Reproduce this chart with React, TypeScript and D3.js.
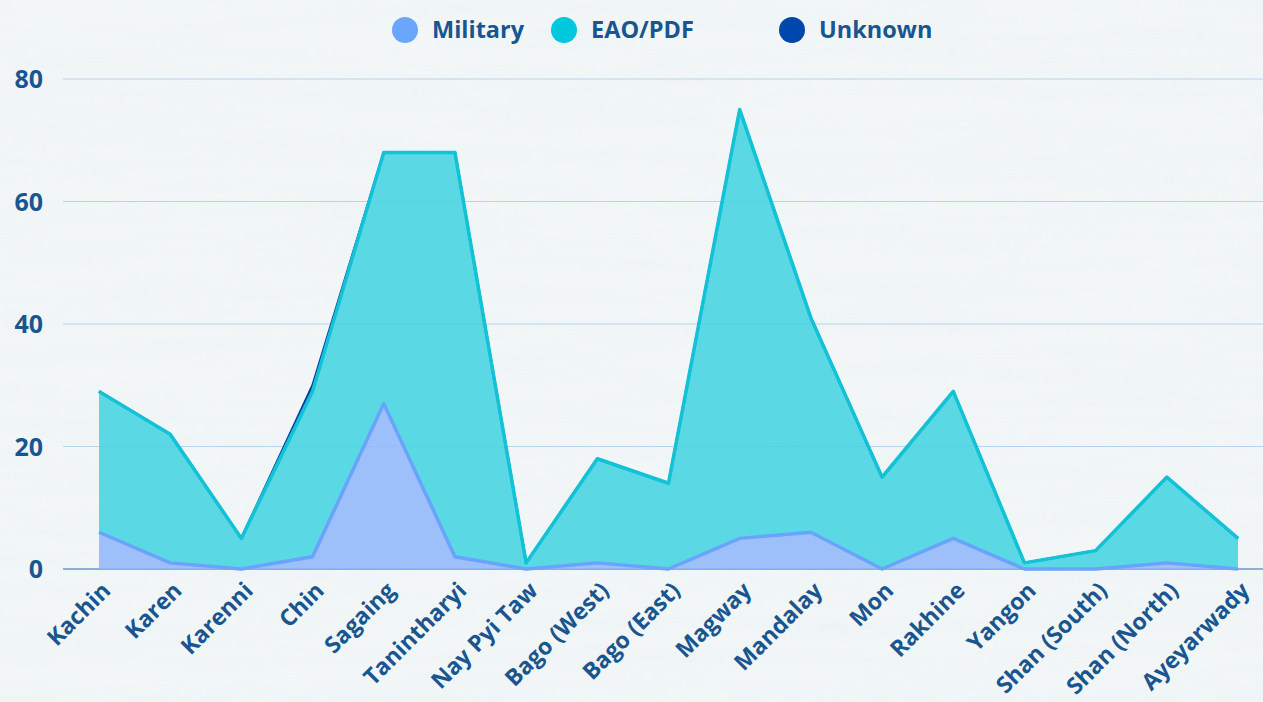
import React from 'react';
import * as d3 from 'd3';

const regions = [
    'Kachin', 'Karen', 'Karenni', 'Chin', 'Sagaing', 'Tanintharyi', 'Nay Pyi Taw',
    'Bago (West)', 'Bago (East)', 'Magway', 'Mandalay', 'Mon', 'Rakhine', 'Yangon',
    'Shan (South)', 'Shan (North)', 'Ayeyarwady',
];
const military = [6, 1, 0, 2, 27, 2, 0, 1, 0, 5, 6, 0, 5, 0, 0, 1, 0];
const eaoPdf = [23, 21, 5, 27, 41, 66, 1, 17, 14, 70, 35, 15, 24, 1, 3, 14, 5];
const unknown = [0, 0, 0, 1, 0, 0, 0, 0, 0, 0, 0, 0, 0, 0, 0, 0, 0];
const yTicks = [0, 20, 40, 60, 80];

const seriesInfo = [
    { key: 'military', label: 'Military', fill: '#8fb6fa', fillOpacity: 0.85, stroke: '#69a3fb', dot: '#6aa6fd' },
    { key: 'eao', label: 'EAO/PDF', fill: '#3fd3e0', fillOpacity: 0.85, stroke: '#12c3d8', dot: '#00c8dc' },
    { key: 'unknown', label: 'Unknown', fill: '#0a46a8', fillOpacity: 0.8, stroke: '#0a3f9f', dot: '#0047ab' },
];

const width = 1263;
const height = 702;
const margin = { left: 63, right: 0, top: 79, bottom: 133 };
const textColor = '#19558f';

export default function App() {
    const table = regions.map((r, i) => ({
        region: r,
        military: military[i],
        eao: eaoPdf[i],
        unknown: unknown[i],
    }));
    const stacked = d3.stack().keys(['military', 'eao', 'unknown'])(table as any);

    const x = d3.scalePoint(regions, [99, 1238]);
    const y = d3.scaleLinear([0, 80], [height - margin.bottom, margin.top]);

    const area = d3.area<any>()
        .x((d) => x(d.data.region) as number)
        .y0((d) => y(d[0]))
        .y1((d) => y(d[1]));
    const line = d3.line<any>()
        .x((d) => x(d.data.region) as number)
        .y((d) => y(d[1]));

    // draw unknown under the others so the cyan edge sits on top
    const order = [2, 0, 1];

    return (
        <svg width={width} height={height} style={{ position: 'absolute', left: 0, top: 0 }}
            fontFamily="'Open Sans', Lato, sans-serif">
            <defs>
                <filter id="paper" x="0" y="0" width="100%" height="100%">
                    <feTurbulence type="fractalNoise" baseFrequency="0.004 0.06" numOctaves="3" seed="4" />
                    <feColorMatrix type="matrix"
                        values="0 0 0 0 0.55  0 0 0 0 0.65  0 0 0 0 0.7  0 0 0 0.18 0" />
                </filter>
            </defs>
            <rect width={width} height={height} fill="#f3f7f8" />
            <rect width={width} height={height} filter="url(#paper)" opacity={0.55} />

            {yTicks.map((t) => (
                <g key={t}>
                    <line x1={margin.left} x2={width} y1={y(t)} y2={y(t)}
                        stroke={t === 0 ? '#6c95cc' : '#b9d3ea'} strokeWidth={t === 0 ? 1.5 : 1} />
                    <text x={43} y={y(t)} dy="0.36em" textAnchor="end" fontSize={25}
                        fontWeight={700} fill={textColor}>{t}</text>
                </g>
            ))}

            {order.map((i) => (
                <path key={'a' + i} d={area(stacked[i] as any) as string}
                    fill={seriesInfo[i].fill} fillOpacity={seriesInfo[i].fillOpacity}
                    stroke="none" />
            ))}
            {order.map((i) => (
                <path key={'l' + i} d={line(stacked[i] as any) as string} fill="none"
                    stroke={seriesInfo[i].stroke} strokeWidth={i === 2 ? 2.5 : 3.5}
                    strokeLinejoin="round" />
            ))}

            {regions.map((r) => (
                <text key={r} transform={`translate(${(x(r) as number) + 13},${592}) rotate(-45)`}
                    textAnchor="end" fontSize={23} fontWeight={700} fill={textColor}>{r}</text>
            ))}

            {seriesInfo.map((s, i) => {
                const lx = [405, 564, 792][i];
                return (
                    <g key={s.key}>
                        <circle cx={lx} cy={30} r={13} fill={s.dot} />
                        <text x={lx + 27} y={30} dy="0.36em" fontSize={23.5} fontWeight={700}
                            fill={textColor}>{s.label}</text>
                    </g>
                );
            })}
        </svg>
    );
}
